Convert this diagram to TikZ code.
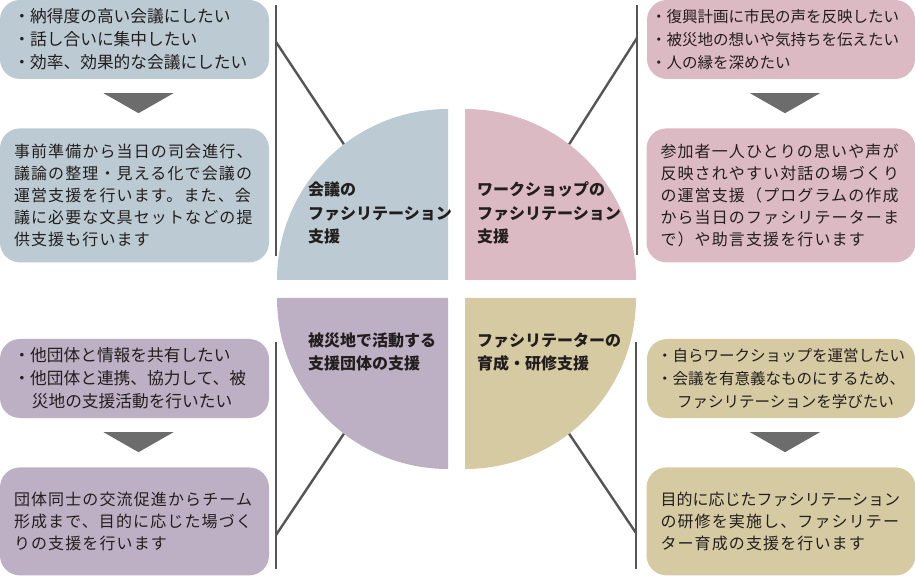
\documentclass[tikz,border=0pt]{standalone}
\usepackage{fontspec}
\setmainfont{Noto Sans CJK JP}
\newfontfamily\jpwide[LetterSpace=7]{Noto Sans CJK JP}
\usepackage{xcolor}
\usetikzlibrary{calc,positioning}
\definecolor{textgrey}{RGB}{35,30,30}
\definecolor{linegrey}{RGB}{85,85,85}
\definecolor{arrowgrey}{RGB}{108,108,108}
\definecolor{meetcolor}{RGB}{188,203,211}
\definecolor{wscolor}{RGB}{220,186,196}
\definecolor{aidcolor}{RGB}{189,176,196}
\definecolor{traincolor}{RGB}{214,202,163}

\begin{document}
\begin{tikzpicture}[x=1pt,y=1pt,
  needbox/.style={rounded corners=20pt,inner xsep=13.5pt,inner ysep=0pt,
    minimum width=269pt,minimum height=79pt,text width=242pt,align=left,
    text=textgrey,font=\fontsize{16.7}{23}\selectfont},
  rightneed/.style={needbox,minimum width=268pt,inner xsep=#1,
    text width=268pt-2*#1,font=\fontsize{15.5}{23}\selectfont},
  supportbox/.style={needbox,minimum height=134pt,inner xsep=14pt,text width=241pt,
    font=\jpwide\fontsize{16}{22}\selectfont},
  quadlabel/.style={inner sep=0pt,anchor=base west,align=left,text=textgrey,
    font=\bfseries\fontsize{16}{23.5}\selectfont},
  bar/.style={linegrey,line width=2.4pt}]
  \useasboundingbox (0,0) rectangle (915,576);
  % needs and support, one column per side
  \node[needbox,fill=meetcolor] (meetneed) at (134.5,536.5)
    {・納得度の高い会議にしたい\\・話し合いに集中したい\\・効率、効果的な会議にしたい};
  \node[supportbox,fill=meetcolor,below=49pt of meetneed] (meetsup)
    {事前準備から当日の司会進行、\\議論の整理・見える化で会議の\\運営支援を行います。また、会\\議に必要な文具セットなどの提\\供支援も行います};
  \node[rightneed=4pt,fill=wscolor] (wsneed) at (781,536.5)
    {・復興計画に市民の声を反映したい\\・被災地の想いや気持ちを伝えたい\\・人の縁を深めたい};
  \node[supportbox,fill=wscolor,minimum width=268pt,below=49pt of wsneed] (wssup)
    {参加者一人ひとりの思いや声が\\反映されやすい対話の場づくり\\の運営支援（プログラムの作成\\から当日のファシリテーターま\\で）や助言支援を行います};
  \node[needbox,fill=aidcolor] (aidneed) at (134.5,197.5)
    {・他団体と情報を共有したい\\・他団体と連携、協力して、被\\\hspace*{1.1em}災地の支援活動を行いたい};
  \node[supportbox,fill=aidcolor,minimum height=108pt,below=49pt of aidneed] (aidsup)
    {団体同士の交流促進からチーム\\形成まで、目的に応じた場づく\\りの支援を行います};
  \node[rightneed=10pt,fill=traincolor] (trainneed) at (781,197.5)
    {・自らワークショップを運営したい\\・会議を有意義なものにするため、\\\hspace*{1.3em}ファシリテーションを学びたい};
  \node[supportbox,fill=traincolor,minimum width=268pt,minimum height=108pt,
    below=49pt of trainneed] (trainsup)
    {{\rmfamily 目的に応じたファシリテーション}\\の研修を実施し、ファシリテー\\ター育成の支援を行います};
  \foreach \n in {meetneed,wsneed,aidneed,trainneed}
    \fill[arrowgrey] ($(\n.south)+(-31,-14)$) -- ++(70,0) -- ++(-35,-20) -- cycle;
  % bars beside the columns
  \coordinate (meettop) at (276,571);   \coordinate (meetbot) at (276,320);
  \coordinate (wstop) at (637,571);     \coordinate (wsbot) at (637,321);
  \coordinate (aidtop) at (276,234);    \coordinate (aidbot) at (276,7);
  \coordinate (traintop) at (636,234);  \coordinate (trainbot) at (636,7);
  \coordinate (meetbar) at (276,534);   \coordinate (wsbar) at (637,538);
  \coordinate (aidbar) at (276,41);     \coordinate (trainbar) at (636,43);
  \coordinate (meetarc) at ($(448,296)+(127.5:171)$);
  \coordinate (wsarc) at ($(465,296)+(52.5:171)$);
  \coordinate (aidarc) at ($(448,278)+(232.5:171)$);
  \coordinate (trainarc) at ($(465,278)+(307.5:171)$);
  \foreach \n in {meet,ws,aid,train}{
    \draw[bar] (\n top) -- (\n bot);
    \draw[bar] (\n bar) -- (\n arc);}
  % the four quarters
  \fill[meetcolor] (448,296) -- ++(-171,0) arc[start angle=180,end angle=90,radius=171] -- cycle;
  \fill[wscolor] (465,296) -- ++(0,171) arc[start angle=90,end angle=0,radius=171] -- cycle;
  \fill[aidcolor] (448,278) -- ++(0,-171) arc[start angle=270,end angle=180,radius=171] -- cycle;
  \fill[traincolor] (465,278) -- ++(171,0) arc[start angle=0,end angle=-90,radius=171] -- cycle;
  \node[quadlabel] (meetlabel) at (308,333) {会議の\\ファシリテーション\\支援};
  \node[quadlabel] (wslabel) at (477,333) {ワークショップの\\ファシリテーション\\支援};
  \node[quadlabel] (aidlabel) at (308,206.5) {被災地で活動する\\支援団体の支援};
  \node[quadlabel] (trainlabel) at (477,206.5) {ファシリテーターの\\育成・研修支援};
\end{tikzpicture}
\end{document}
